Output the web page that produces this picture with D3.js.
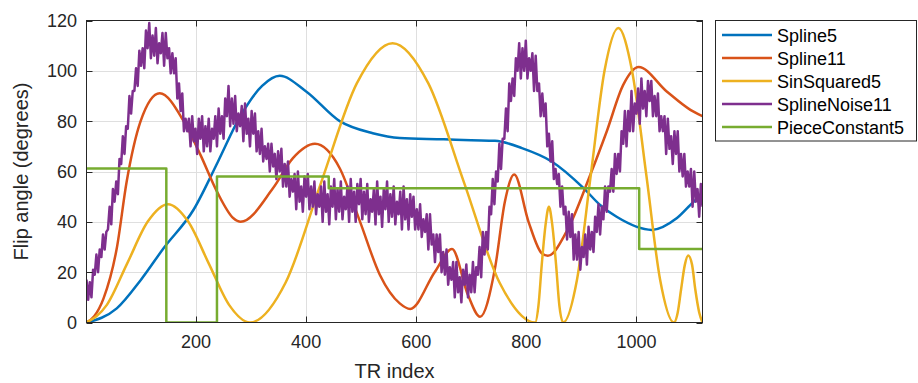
<!DOCTYPE html>
<html>
<head>
<meta charset="utf-8">
<script src="https://cdn.jsdelivr.net/npm/d3@7"></script>
<style>
  html, body { margin: 0; padding: 0; background: #fff; }
  svg { display: block; font-family: "Liberation Sans", Arial, sans-serif; }
</style>
</head>
<body>
<div id="chart"></div>
<script>
// --- data ---
const xTicks = [200, 400, 600, 800, 1000];
const yTicks = [0, 20, 40, 60, 80, 100, 120];
const seriesNames = ['Spline5', 'Spline11', 'SinSquared5', 'SplineNoise11', 'PieceConstant5'];
const seriesColors = ['#0072BD', '#D95319', '#EDB120', '#7E2F8E', '#77AC30'];

const spline5 = [[1,0],[56,5.6],[100,17],[141,29.5],[196,45],[240,64],[278,81],[320,94],[352,98],[400,91.8],
  [461,80],[521,75.2],[570,73.3],[650,72.8],[700,72.4],[743,72.2],[792,69.3],[846,64],[904,53.4],[934,46.7],
  [964,42],[1028,36.8],[1073,41.4],[1104,48],[1120,51]];

const spline11 = [[1,0],[15,2.5],[32,9.6],[56,29.5],[74,56],[99,79.8],[134,91.1],[178,79.8],[208,66.6],[238,52],
  [268,41.4],[281,40],[340,53.4],[376,65.3],[416,71],[461,61.3],[498,40],[534,18.9],[570,7.6],[589,5.4],
  [634,20.2],[665,29.2],[694,10.9],[716,2.3],[743,21.5],[761,48],[778,58.8],[804,40],[828,27.5],[839,26.5],
  [873,36.1],[916,58.6],[946,75.9],[976,94.4],[1004,101.5],[1055,91.8],[1098,84.5],[1120,82]];

const sinSquared5 = [[1,0],[38,7],[75,23.5],[112,40],[149,47],[186,40],[223,23.5],[260,7],[298,0],
  [363,16],[427,55.5],[492,95],[557,111],[622,95],[687,55.5],[751,16],[816,0],
  [822,6.7],[828,23],[835,39],[841,46],[847,39],[854,23],[860,6.7],[867,0],
  [892,17],[917,58.5],[942,100],[967,117],[992,100],[1018,58.5],[1043,17],[1068,0],
  [1075,4],[1081,13],[1088,23],[1094,26.6],[1101,23],[1107,13],[1114,4],[1120,0]];

// noisy series, one sample every noiseStep TRs starting at TR 1
const noiseStart = 1;
const noiseStep = 3;
const splineNoise11 = [
  17,9,16,10,21,19,27,20,29,26,35,29,36,37,46,39,53,48,56,51,
  65,63,74,67,78,77,90,83,92,92,101,94,108,102,109,101,116,109,119,105,
  114,106,117,103,111,107,115,102,115,105,109,99,107,99,105,89,95,84,91,76,
  81,76,81,70,82,72,77,67,81,73,82,68,78,70,81,68,77,73,82,70,
  85,75,82,73,89,82,94,78,89,79,90,76,83,78,86,72,87,75,81,70,
  84,75,83,68,76,67,77,64,70,65,71,60,71,62,67,57,68,60,69,54,
  63,54,64,50,57,52,59,45,60,48,54,44,58,50,59,45,54,46,56,43,
  51,46,54,40,56,44,51,39,54,46,57,41,53,44,56,41,50,45,54,40,
  57,44,52,40,55,47,57,41,52,43,55,40,49,44,53,39,56,43,50,38,
  53,45,56,40,51,42,54,39,48,43,52,37,54,41,49,37,51,42,50,37,
  45,37,47,34,41,36,43,29,43,31,35,24,35,28,35,20,28,19,29,15,
  22,17,24,10,24,12,18,8,21,15,23,10,19,12,24,12,22,19,30,18,
  36,27,36,29,46,43,57,47,60,56,71,61,73,73,85,76,95,88,97,90,
  105,100,111,97,109,100,112,97,105,100,107,92,106,92,95,82,91,82,87,70,
  75,64,72,57,61,55,59,46,54,43,46,33,44,34,43,25,35,25,36,21,
  30,26,35,23,38,29,36,28,42,36,47,35,46,41,54,44,54,52,61,52,
  67,59,67,60,76,71,84,70,84,76,92,76,87,83,93,79,97,85,92,82,
  96,88,96,82,90,82,91,76,82,76,82,67,81,69,74,63,76,67,76,60,
  67,58,67,54,60,54,61,46,60,48,53,42,55,46];

const pieceConstant5 = [[1,61.2],[146,0],[238,58],[441,53.3],[1005,29.2],[1120,29.2]];

// --- layout ---
const W = 918, H = 383;
const plot = { left: 86.5, top: 20.5, right: 702.5, bottom: 322.5 };
const axisColor = '#262626';
const gridColor = '#dfdfdf';
const lineWidth = 2.5;

const svg = d3.select('#chart').append('svg')
  .attr('width', W).attr('height', H)
  .attr('viewBox', `0 0 ${W} ${H}`);

const x = d3.scaleLinear().domain([1, 1120]).range([plot.left, plot.right]);
const y = d3.scaleLinear().domain([0, 120]).range([plot.bottom, plot.top]);

// --- Gridlines ---
svg.append('g')
  .selectAll('line.gx')
  .data(xTicks)
  .enter().append('line')
  .attr('x1', d => Math.round(x(d)) + 0.5).attr('x2', d => Math.round(x(d)) + 0.5)
  .attr('y1', plot.top).attr('y2', plot.bottom)
  .attr('stroke', gridColor).attr('stroke-width', 1);

svg.append('g')
  .selectAll('line.gy')
  .data(yTicks.slice(1, -1))
  .enter().append('line')
  .attr('x1', plot.left).attr('x2', plot.right)
  .attr('y1', d => Math.round(y(d)) + 0.5).attr('y2', d => Math.round(y(d)) + 0.5)
  .attr('stroke', gridColor).attr('stroke-width', 1);

// --- Lines ---
svg.append('clipPath').attr('id', 'clip')
  .append('rect')
  .attr('x', plot.left).attr('y', plot.top - 1)
  .attr('width', plot.right - plot.left).attr('height', plot.bottom - plot.top + 1);

const linesG = svg.append('g').attr('clip-path', 'url(#clip)');

const smooth = d3.line()
  .x(d => x(d[0]))
  .y(d => y(d[1]))
  .curve(d3.curveMonotoneX);

const noisePts = splineNoise11.map((v, i) => [noiseStart + i * noiseStep, v]);
const straight = d3.line().x(d => x(d[0])).y(d => y(d[1]));
const step = d3.line().x(d => x(d[0])).y(d => y(d[1])).curve(d3.curveStepAfter);

const drawn = [
  [spline5, smooth],
  [spline11, smooth],
  [sinSquared5, smooth],
  [noisePts, straight],
  [pieceConstant5, step]
];

drawn.forEach(([pts, gen], i) => {
  linesG.append('path')
    .datum(pts)
    .attr('fill', 'none')
    .attr('stroke', seriesColors[i])
    .attr('stroke-width', lineWidth)
    .attr('stroke-linejoin', 'round')
    .attr('d', gen);
});

// --- Axes box and ticks ---
const tickLen = 6;
svg.append('rect')
  .attr('x', plot.left).attr('y', plot.top)
  .attr('width', plot.right - plot.left).attr('height', plot.bottom - plot.top)
  .attr('fill', 'none').attr('stroke', axisColor).attr('stroke-width', 1);

const ticksG = svg.append('g').attr('stroke', axisColor).attr('stroke-width', 1);
xTicks.forEach(t => {
  const px = Math.round(x(t)) + 0.5;
  ticksG.append('line').attr('x1', px).attr('x2', px).attr('y1', plot.bottom).attr('y2', plot.bottom - tickLen);
  ticksG.append('line').attr('x1', px).attr('x2', px).attr('y1', plot.top).attr('y2', plot.top + tickLen);
});
yTicks.forEach(t => {
  const py = Math.round(y(t)) + 0.5;
  ticksG.append('line').attr('x1', plot.left).attr('x2', plot.left + tickLen).attr('y1', py).attr('y2', py);
  ticksG.append('line').attr('x1', plot.right).attr('x2', plot.right - tickLen).attr('y1', py).attr('y2', py);
});

// tick labels
svg.append('g')
  .selectAll('text')
  .data(xTicks)
  .enter().append('text')
  .attr('x', d => x(d))
  .attr('y', 348)
  .attr('text-anchor', 'middle')
  .attr('fill', axisColor)
  .style('font-size', '18px')
  .text(d => d);

svg.append('g')
  .selectAll('text')
  .data(yTicks)
  .enter().append('text')
  .attr('x', 77)
  .attr('y', d => y(d) + 6.5)
  .attr('text-anchor', 'end')
  .attr('fill', axisColor)
  .style('font-size', '18px')
  .text(d => d);

// axis labels
svg.append('text')
  .attr('x', (plot.left + plot.right) / 2)
  .attr('y', 378)
  .attr('text-anchor', 'middle')
  .attr('fill', axisColor)
  .style('font-size', '20px')
  .text('TR index');

svg.append('text')
  .attr('transform', `translate(28,${(plot.top + plot.bottom) / 2}) rotate(-90)`)
  .attr('text-anchor', 'middle')
  .attr('fill', axisColor)
  .style('font-size', '20px')
  .text('Flip angle (degrees)');

// --- Legend ---
const legend = svg.append('g');
legend.append('rect')
  .attr('x', 715.5).attr('y', 20.5)
  .attr('width', 201).attr('height', 120.5)
  .attr('fill', '#fff').attr('stroke', axisColor).attr('stroke-width', 1);

seriesNames.forEach((name, i) => {
  const ly = 35 + i * 23;
  legend.append('line')
    .attr('x1', 722).attr('x2', 772)
    .attr('y1', ly).attr('y2', ly)
    .attr('stroke', seriesColors[i]).attr('stroke-width', lineWidth);
  legend.append('text')
    .attr('x', 777).attr('y', ly + 6.5)
    .attr('fill', '#000')
    .style('font-size', '18px')
    .text(name);
});
</script>
</body>
</html>
